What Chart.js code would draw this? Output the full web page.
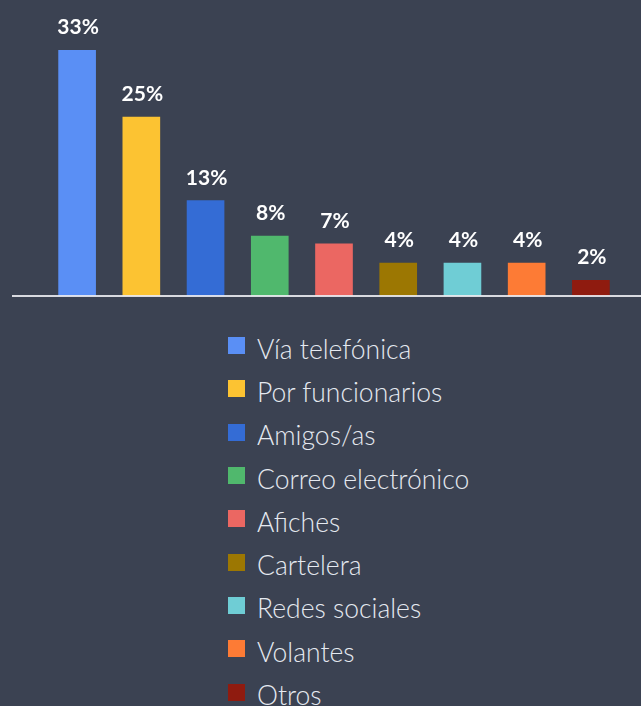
<!DOCTYPE html>
<html>
<head>
<meta charset="utf-8">
<script src="https://cdn.jsdelivr.net/npm/chart.js@4"></script>
<style>
  body { margin: 0; background: #3b4252; width: 641px; height: 706px; overflow: hidden; position: relative; }
  #wrap { position: absolute; left: 0; top: 0; width: 641px; height: 310px; }
  #legend { position: absolute; left: 228px; top: 324px; margin: 0; padding: 0; list-style: none; }
  #legend li { display: flex; align-items: center; height: 43.3px; font-family: Lato, sans-serif; font-weight: 300; font-size: 26.5px; color: #e5e9f0; white-space: nowrap; }
  #legend li span.box { display: inline-block; width: 17px; height: 17px; margin-right: 12px; flex: none; }
  #legend li span.txt { position: relative; top: 3px; }
</style>
</head>
<body>
<div id="wrap"><canvas id="myChart" width="641" height="310"></canvas></div>
<ul id="legend"></ul>
<script>
const categories = ['Vía telefónica', 'Por funcionarios', 'Amigos/as', 'Correo electrónico', 'Afiches', 'Cartelera', 'Redes sociales', 'Volantes', 'Otros'];
const values = [33, 24, 12.8, 8.05, 7, 4.4, 4.4, 4.4, 2.1];
const valueLabels = ['33%', '25%', '13%', '8%', '7%', '4%', '4%', '4%', '2%'];
const colors = ['#5a8ff5', '#fcc332', '#346cd5', '#50b86d', '#eb6762', '#9c7702', '#6fcdd5', '#fd7b35', '#8f1b0f'];

// labels over the bars
const barLabels = {
    id: 'barLabels',
    afterDatasetsDraw(chart) {
        const ctx = chart.ctx;
        const meta = chart.getDatasetMeta(0);
        ctx.save();
        ctx.fillStyle = '#ffffff';
        ctx.font = 'bold 21px Lato';
        ctx.textAlign = 'center';
        ctx.textBaseline = 'alphabetic';
        meta.data.forEach((bar, i) => {
            ctx.fillText(valueLabels[i], bar.x + 1, bar.y - 16);
        });
        ctx.restore();
    }
};

// long white base line
const baseLine = {
    id: 'baseLine',
    afterDatasetsDraw(chart) {
        const ctx = chart.ctx;
        const y = chart.scales.y.getPixelForValue(0);
        ctx.save();
        ctx.strokeStyle = 'rgba(235,235,240,0.9)';
        ctx.lineWidth = 2;
        ctx.beginPath();
        ctx.moveTo(12, y);
        ctx.lineTo(chart.width, y);
        ctx.stroke();
        ctx.restore();
    }
};

const ctx = document.getElementById('myChart').getContext('2d');
const myChart = new Chart(ctx, {
    type: 'bar',
    data: {
        labels: categories,
        datasets: [{
            data: values,
            backgroundColor: colors,
            borderWidth: 0,
            barThickness: 37
        }]
    },
    options: {
        responsive: false,
        animation: false,
        layout: { padding: { top: 50, bottom: 14, left: 45, right: 18 } },
        plugins: {
            legend: { display: false },
            tooltip: { enabled: false }
        },
        scales: {
            x: { display: false },
            y: { display: false, min: 0, max: 33 }
        }
    },
    plugins: [barLabels, baseLine]
});

// legend list under the chart
const ul = document.getElementById('legend');
myChart.data.labels.forEach((label, i) => {
    const li = document.createElement('li');
    li.innerHTML = `<span class="box" style="background:${colors[i]}"></span><span class="txt">${label}</span>`;
    ul.appendChild(li);
});
</script>
</body>
</html>
